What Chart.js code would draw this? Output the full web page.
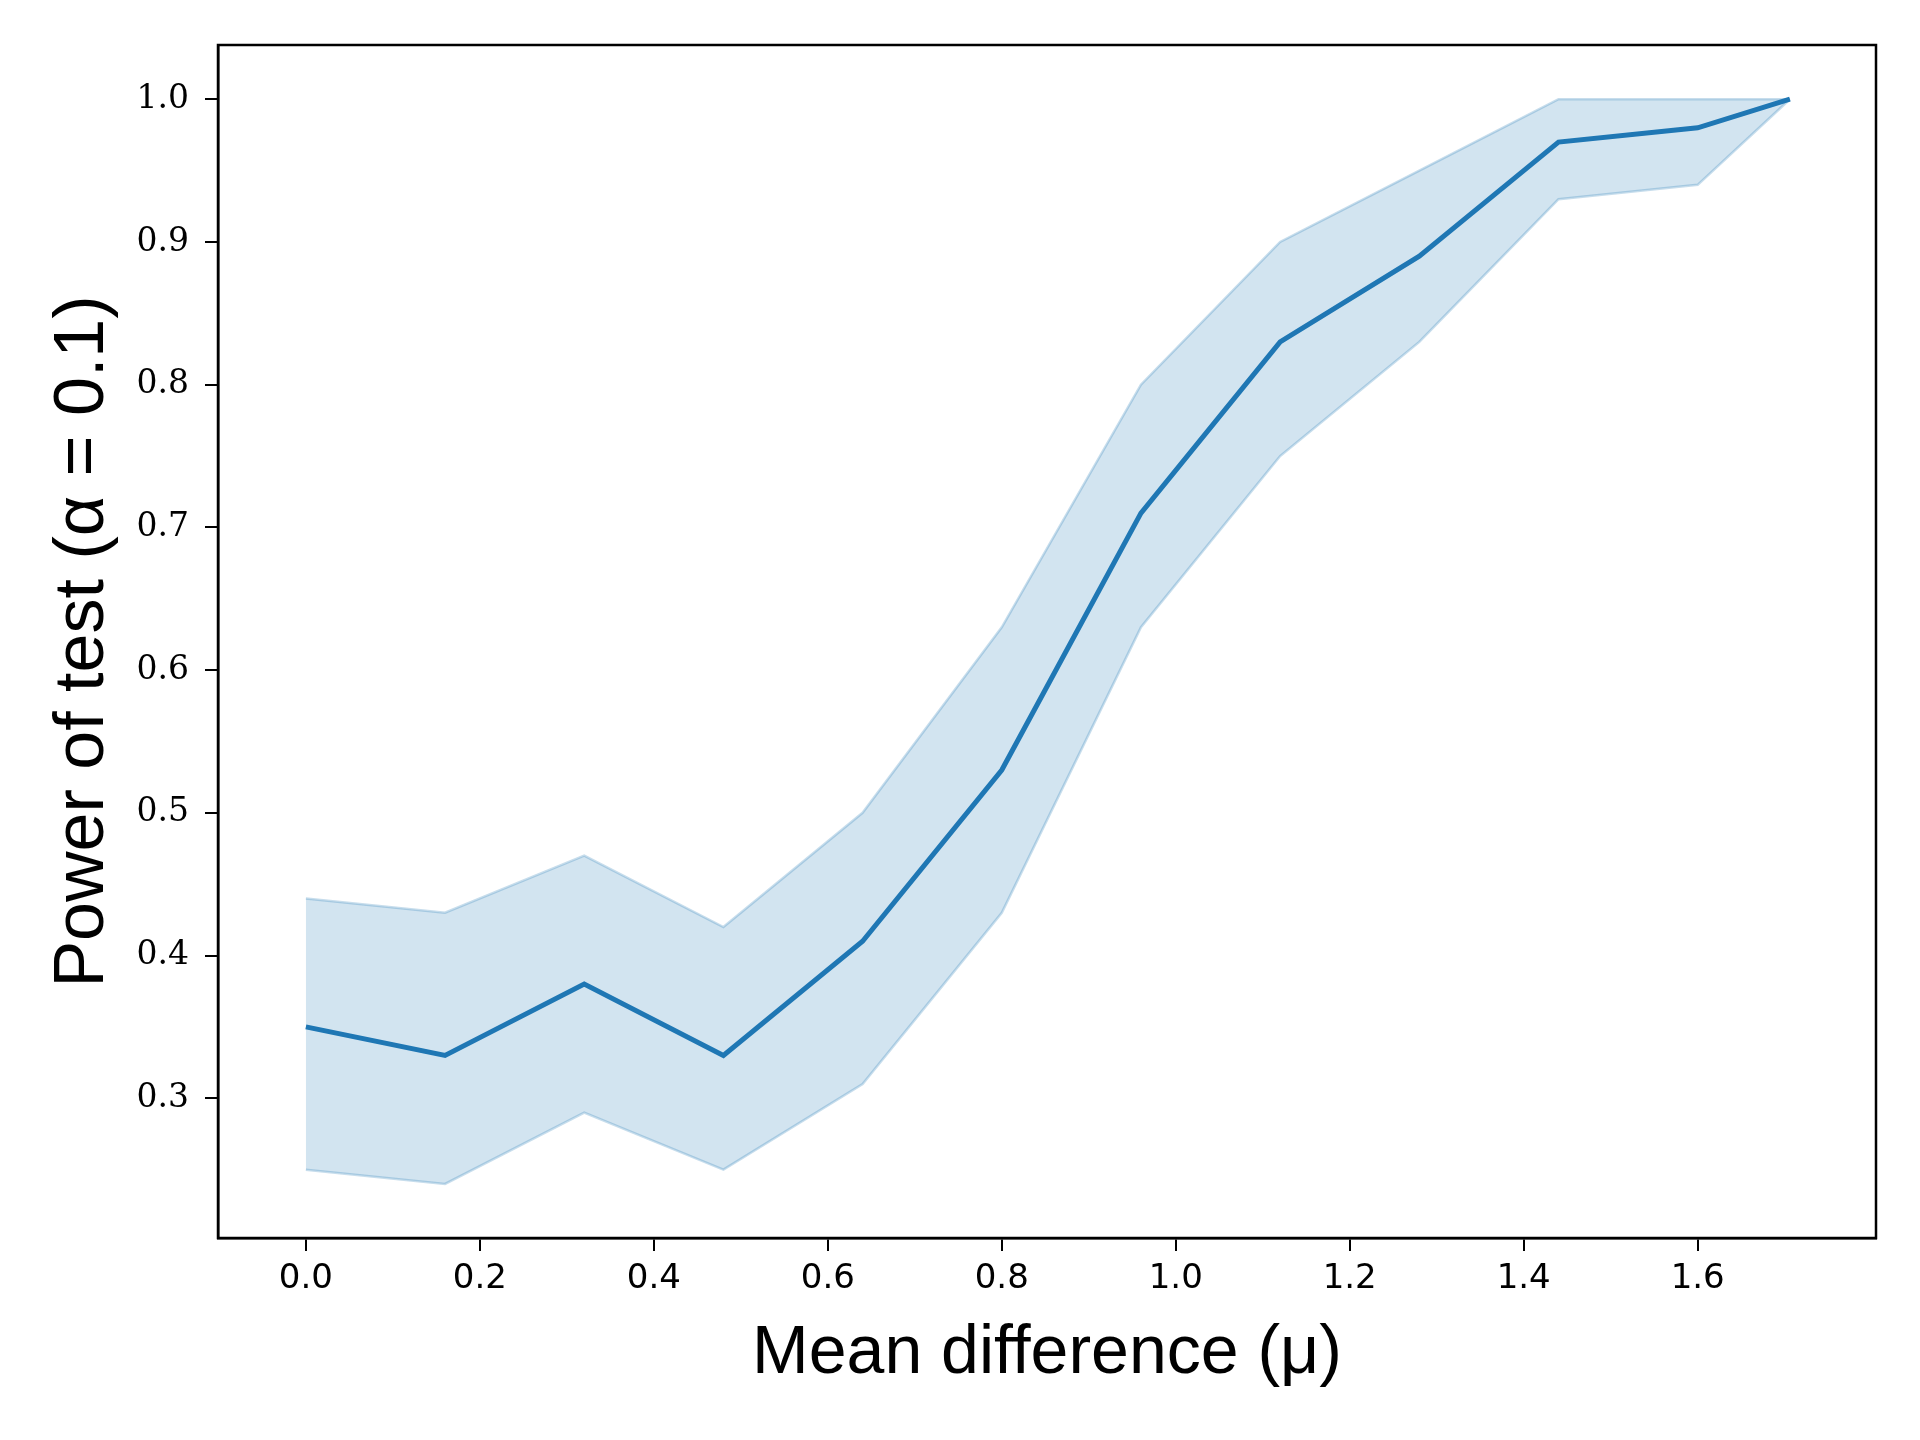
<!DOCTYPE html>
<html>
<head>
<meta charset="utf-8">
<script src="https://cdn.jsdelivr.net/npm/chart.js@4/dist/chart.umd.min.js"></script>
<style>
  body { margin: 0; background: #fff; }
  #wrap { width: 1920px; height: 1440px; }
</style>
</head>
<body>
<div id="wrap"><canvas id="chart-area"></canvas></div>
<script>
// mean difference values
var muValues = [0, 0.16, 0.32, 0.48, 0.64, 0.80, 0.96, 1.12, 1.28, 1.44, 1.60, 1.706];
// power of test
var powerMean  = [0.35, 0.33, 0.38, 0.33, 0.41, 0.53, 0.71, 0.83, 0.89, 0.97, 0.98, 1.00];
var powerUpper = [0.44, 0.43, 0.47, 0.42, 0.50, 0.63, 0.80, 0.90, 0.95, 1.00, 1.00, 1.00];
var powerLower = [0.25, 0.24, 0.29, 0.25, 0.31, 0.43, 0.63, 0.75, 0.83, 0.93, 0.94, 1.00];

var xTicks = [0.0, 0.2, 0.4, 0.6, 0.8, 1.0, 1.2, 1.4, 1.6];
var yTicks = [0.3, 0.4, 0.5, 0.6, 0.7, 0.8, 0.9, 1.0];

function toPoints(ys) {
	return muValues.map(function (x, i) { return { x: x, y: ys[i] }; });
}

// full box round the plot area
var frame = {
	id: 'frame',
	afterDraw: function (chart) {
		var a = chart.chartArea;
		var ctx = chart.ctx;
		ctx.save();
		ctx.strokeStyle = '#000';
		ctx.lineWidth = 2.5;
		ctx.strokeRect(a.left, a.top, a.right - a.left, a.bottom - a.top);
		ctx.restore();
	}
};

var ctx = document.getElementById('chart-area').getContext('2d');

var config = {
	type: 'line',
	data: {
		datasets: [{
			label: 'mean',
			data: toPoints(powerMean),
			borderColor: '#1f77b4',
			borderWidth: 5,
			pointRadius: 0,
			fill: false
		}, {
			label: 'upper',
			data: toPoints(powerUpper),
			borderColor: 'rgba(31,119,180,0.25)',
			backgroundColor: 'rgba(31,119,180,0.2)',
			borderWidth: 2.5,
			pointRadius: 0,
			fill: '+1'
		}, {
			label: 'lower',
			data: toPoints(powerLower),
			borderColor: 'rgba(31,119,180,0.25)',
			borderWidth: 2.5,
			pointRadius: 0,
			fill: false
		}]
	},
	options: {
		responsive: true,
		maintainAspectRatio: false,
		animation: false,
		layout: { padding: { top: 45, right: 44, left: 0, bottom: 0 } },
		plugins: {
			legend: { display: false },
			tooltip: { enabled: false }
		},
		scales: {
			x: {
				type: 'linear',
				min: -0.101,
				max: 1.805,
				afterBuildTicks: function (scale) {
					scale.ticks = xTicks.map(function (v) { return { value: v }; });
				},
				afterFit: function (scale) { scale.height = 202; },
				grid: { drawOnChartArea: false, color: '#000', lineWidth: 2, tickLength: 13 },
				border: { color: '#000', width: 2.5 },
				ticks: {
					color: '#000',
					padding: 8,
					maxRotation: 0,
					font: { family: 'DejaVu Sans', size: 34 },
					callback: function (v) { return v.toFixed(1); }
				},
				title: {
					display: true,
					text: 'Mean difference (μ)',
					color: '#000',
					font: { family: 'Liberation Sans', size: 68 },
					padding: { top: 0, bottom: 45 }
				}
			},
			y: {
				type: 'linear',
				min: 0.2021,
				max: 1.038,
				afterBuildTicks: function (scale) {
					scale.ticks = yTicks.map(function (v) { return { value: v }; });
				},
				afterFit: function (scale) { scale.width = 218; },
				grid: { drawOnChartArea: false, color: '#000', lineWidth: 2, tickLength: 13 },
				border: { color: '#000', width: 2.5 },
				ticks: {
					color: '#000',
					padding: 16,
					font: { family: 'DejaVu Serif', size: 33 },
					callback: function (v) { return v.toFixed(1); }
				},
				title: {
					display: true,
					text: 'Power of test (α = 0.1)',
					color: '#000',
					font: { family: 'Liberation Sans', size: 70 },
					padding: { top: 42, bottom: 0 }
				}
			}
		}
	},
	plugins: [frame]
};

window.myLine = new Chart(ctx, config);
</script>
</body>
</html>
